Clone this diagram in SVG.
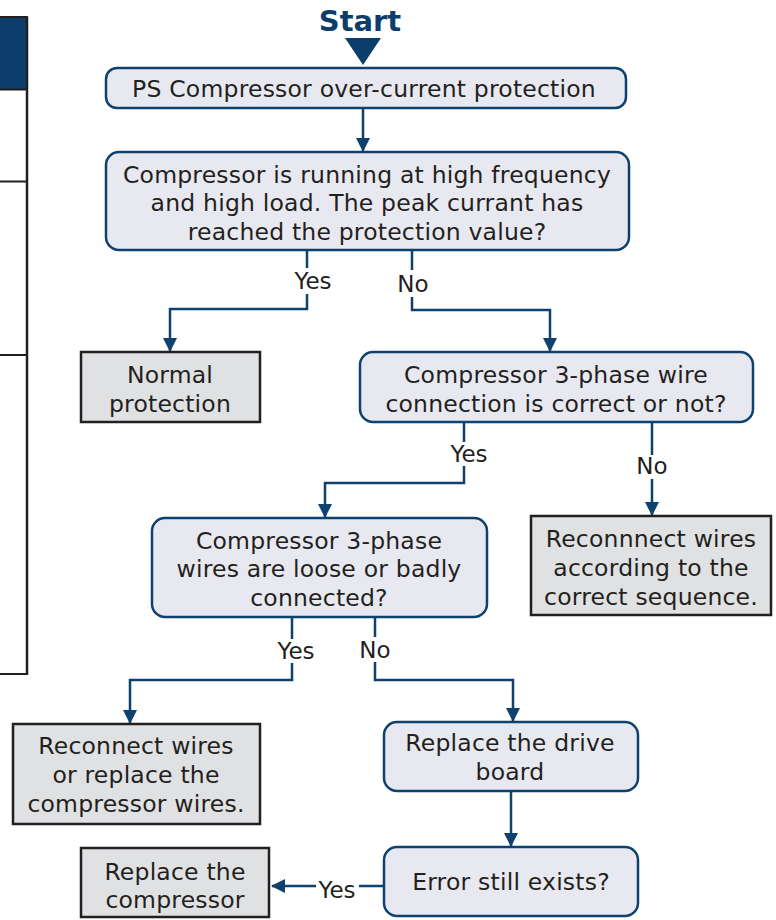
<svg xmlns="http://www.w3.org/2000/svg" width="776" height="920" viewBox="0 0 776 920">
<defs>
<style>
.t{font-family:"DejaVu Sans","Noto Sans",sans-serif;font-size:23.5px;letter-spacing:0.2px;fill:#231f20;text-anchor:middle}
.l{font-family:"DejaVu Sans","Noto Sans",sans-serif;font-size:23px;fill:#231f20;text-anchor:middle}
.d{fill:#e8e9f0;stroke:#0e416e;stroke-width:2.5}
.g{fill:#e0e1e3;stroke:#231f20;stroke-width:2.5}
.c{fill:none;stroke:#0e416e;stroke-width:2.5}
</style>
<marker id="ah" viewBox="0 0 14 14" refX="13" refY="7" markerWidth="14" markerHeight="14" markerUnits="userSpaceOnUse" orient="auto">
<path d="M0,0 L14,7 L0,14 Z" fill="#0e416e"/>
</marker>
</defs>
<rect width="776" height="920" fill="#ffffff"/>
<g id="table">
<rect x="-2" y="17" width="29" height="72" fill="#0d3e6b"/>
<line x1="0" y1="17" x2="28" y2="17" stroke="#231f20" stroke-width="2"/>
<line x1="0" y1="89.5" x2="28" y2="89.5" stroke="#231f20" stroke-width="2"/>
<line x1="0" y1="181.5" x2="28" y2="181.5" stroke="#231f20" stroke-width="2"/>
<line x1="0" y1="355" x2="28" y2="355" stroke="#231f20" stroke-width="2"/>
<line x1="0" y1="674" x2="28" y2="674" stroke="#231f20" stroke-width="2"/>
<line x1="27" y1="17" x2="27" y2="675" stroke="#231f20" stroke-width="2.5"/>
</g>
<g id="start">
<text x="360" y="31" style="font-family:'DejaVu Sans','Noto Sans',sans-serif;font-size:29px;font-weight:bold;fill:#0d3e6b;text-anchor:middle">Start</text>
<path d="M345,38 L381,38 L363,65 Z" fill="#0d3e6b"/>
</g>
<g id="connectors">
<path class="c" d="M363,108 V151" marker-end="url(#ah)"/>
<path class="c" d="M307,250 V268 M307,294 V309 H170 V351" marker-end="url(#ah)"/>
<path class="c" d="M412,250 V270 M412,297 V310 H550 V351" marker-end="url(#ah)"/>
<path class="c" d="M464,422 V442 M464,466 V483 H325 V517" marker-end="url(#ah)"/>
<path class="c" d="M652,422 V455 M652,479 V515" marker-end="url(#ah)"/>
<path class="c" d="M292,617 V639 M292,663 V680 H130 V723" marker-end="url(#ah)"/>
<path class="c" d="M375,617 V637 M375,662 V680 H513 V721" marker-end="url(#ah)"/>
<path class="c" d="M511,791 V846" marker-end="url(#ah)"/>
<path class="c" d="M384,886 H359 M316,886 H272" marker-end="url(#ah)"/>
</g>
<g id="labels">
<text class="l" x="313" y="289">Yes</text>
<text class="l" x="413" y="292">No</text>
<text class="l" x="469" y="462">Yes</text>
<text class="l" x="652" y="474">No</text>
<text class="l" x="296" y="659">Yes</text>
<text class="l" x="375" y="658">No</text>
<text class="l" x="337" y="898">Yes</text>
</g>
<g id="n1"><rect class="d" x="106" y="68" width="520" height="40" rx="11"/>
<text class="t" x="364" y="97">PS Compressor over-current protection</text></g>
<g id="n2"><rect class="d" x="106" y="152" width="523" height="98" rx="13"/>
<text class="t" x="367" y="183">Compressor is running at high frequency</text>
<text class="t" x="367" y="211">and high load. The peak currant has</text>
<text class="t" x="367" y="240">reached the protection value?</text></g>
<g id="n3"><rect class="g" x="81" y="352" width="179" height="70"/>
<text class="t" x="170" y="383">Normal</text>
<text class="t" x="170" y="412">protection</text></g>
<g id="n4"><rect class="d" x="360" y="352" width="393" height="70" rx="13"/>
<text class="t" x="556" y="383">Compressor 3-phase wire</text>
<text class="t" x="556" y="412">connection is correct or not?</text></g>
<g id="n5"><rect class="d" x="152" y="518" width="335" height="99" rx="13"/>
<text class="t" x="319" y="549">Compressor 3-phase</text>
<text class="t" x="319" y="577">wires are loose or badly</text>
<text class="t" x="319" y="606">connected?</text></g>
<g id="n6"><rect class="g" x="531" y="516" width="240" height="99"/>
<text class="t" x="651" y="547">Reconnnect wires</text>
<text class="t" x="651" y="576">according to the</text>
<text class="t" x="651" y="605">correct sequence.</text></g>
<g id="n7"><rect class="g" x="13" y="724" width="247" height="100"/>
<text class="t" x="136" y="754">Reconnect wires</text>
<text class="t" x="136" y="783">or replace the</text>
<text class="t" x="136" y="812">compressor wires.</text></g>
<g id="n8"><rect class="d" x="384" y="722" width="254" height="69" rx="13"/>
<text class="t" x="510" y="751">Replace the drive</text>
<text class="t" x="510" y="780">board</text></g>
<g id="n9"><rect class="d" x="384" y="847" width="254" height="69" rx="13"/>
<text class="t" x="511" y="890">Error still exists?</text></g>
<g id="n10"><rect class="g" x="81" y="848" width="188" height="69"/>
<text class="t" x="175" y="880">Replace the</text>
<text class="t" x="175" y="908">compressor</text></g>
</svg>
